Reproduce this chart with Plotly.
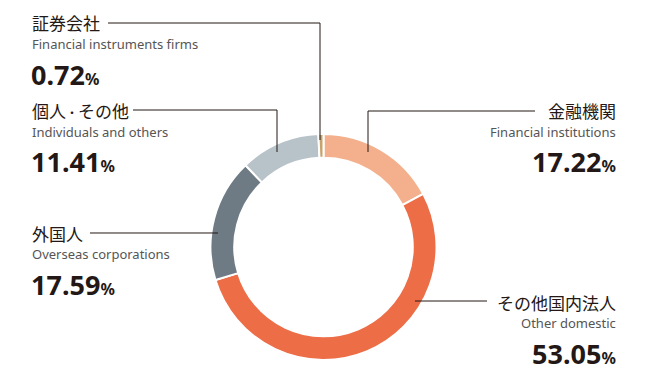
import plotly.graph_objects as go

# data
labels_jp = ["金融機関", "その他国内法人", "外国人", "個人<span style='font-size:12px'>・</span>その他", "証券会社"]
labels_en = ["Financial institutions", "Other domestic", "Overseas corporations",
             "Individuals and others", "Financial instruments firms"]
shares = [17.22, 53.05, 17.59, 11.41, 0.72]
colors = ["#F4B08D", "#EC6D46", "#6E7B84", "#B8C2C9", "#C8A46C"]

W, H = 653, 365
cx, cy, R = 323.5, 247, 113


def px(x):
    return x / W


def py(y):
    return 1 - y / H


fig = go.Figure(go.Pie(
    labels=labels_en,
    values=shares,
    hole=0.79,
    sort=False,
    direction="clockwise",
    rotation=0,
    marker=dict(colors=colors, line=dict(color="white", width=2)),
    textinfo="none",
    showlegend=False,
    domain=dict(x=[px(cx - R), px(cx + R)], y=[py(cy + R), py(cy - R)]),
))

ink = "#231815"
grey = "#555555"
jp_font = "Noto Sans CJK JP"
en_font = "Noto Sans"

# label blocks: (index, x, anchor, y of jp line)
blocks = [
    (4, 30, "left", 23),
    (3, 30, "left", 111),
    (2, 30, "left", 233),
    (0, 618, "right", 111),
    (1, 618, "right", 302),
]

annotations = []
for i, x, anchor, y in blocks:
    annotations.append(dict(x=px(x), y=py(y), text=labels_jp[i], showarrow=False,
                            xanchor=anchor, yanchor="middle",
                            font=dict(family=jp_font, size=17, color=ink)))
    annotations.append(dict(x=px(x), y=py(y + 21), text=labels_en[i], showarrow=False,
                            xanchor=anchor, yanchor="middle",
                            font=dict(family=en_font, size=13, color=grey)))
    annotations.append(dict(x=px(x - 1 if anchor == "left" else x), y=py(y + 51),
                            text="<b>%.2f<span style='font-size:16px'>%%</span></b>" % shares[i],
                            showarrow=False, xanchor=anchor, yanchor="middle",
                            font=dict(family=en_font, size=27, color=ink)))

# leader lines (pixel paths)
leaders = [
    [(108, 23), (320, 23), (320, 140)],
    [(133, 110), (277, 110), (277, 152)],
    [(90, 233), (218, 233)],
    [(535, 111), (368, 111), (368, 152)],
    [(487, 301), (415, 301)],
]
shapes = []
for pts in leaders:
    path = "M " + " L ".join("%f,%f" % (px(a), py(b)) for a, b in pts)
    shapes.append(dict(type="path", xref="paper", yref="paper", path=path,
                       line=dict(color=ink, width=1)))

fig.update_layout(
    width=W, height=H,
    margin=dict(l=0, r=0, t=0, b=0),
    paper_bgcolor="white", plot_bgcolor="white",
    annotations=annotations,
    shapes=shapes,
)

fig.write_html("out.html", config={"displayModeBar": False},
               post_script="document.body.style.margin='0';")
